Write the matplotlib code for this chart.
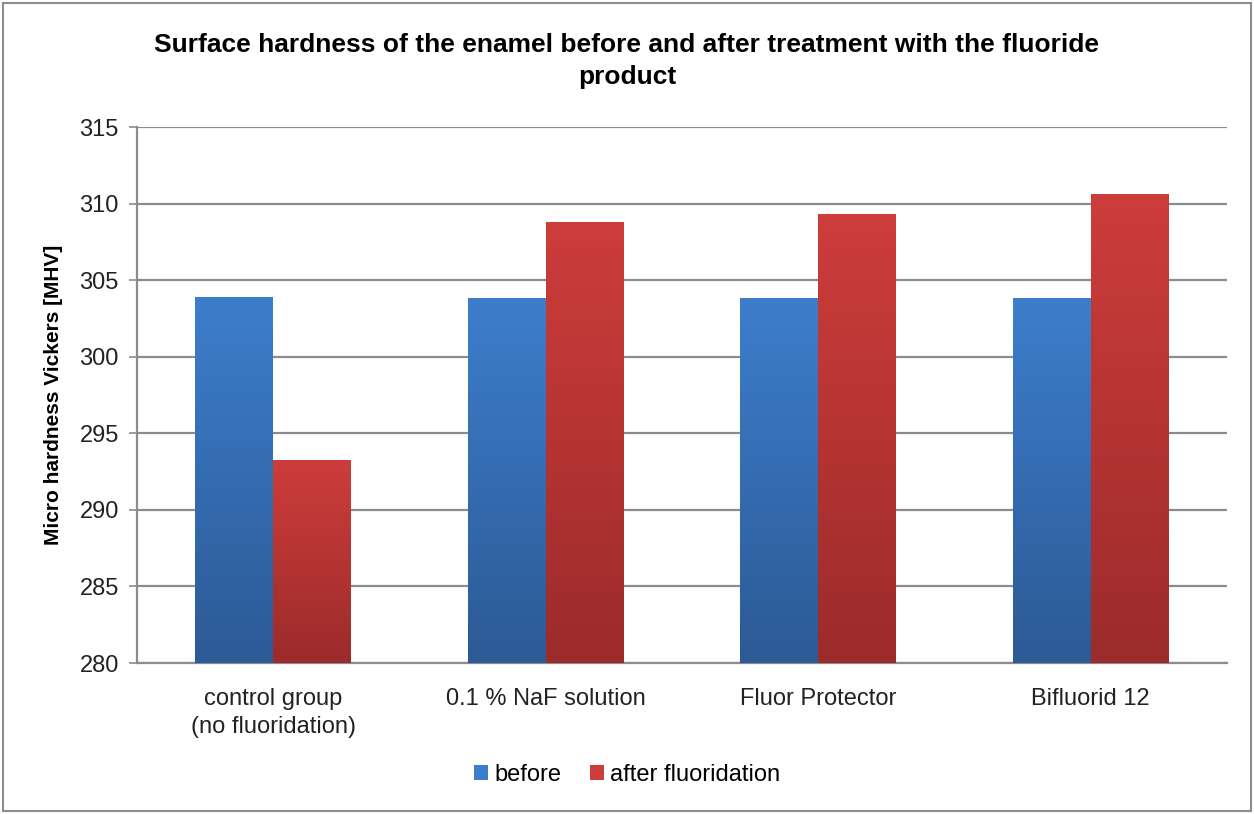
import numpy as np
import matplotlib
matplotlib.use("Agg")
import matplotlib.pyplot as plt
from matplotlib.colors import LinearSegmentedColormap
from matplotlib.patches import Rectangle, Patch

categories = ["control group\n(no fluoridation)", "0.1 % NaF solution", "Fluor Protector", "Bifluorid 12"]
before = [303.9, 303.85, 303.85, 303.85]
after = [293.25, 308.8, 309.3, 310.6]
series_names = ["before", "after fluoridation"]
yticks = [280, 285, 290, 295, 300, 305, 310, 315]

sans = ["Liberation Sans", "DejaVu Sans"]

fig = plt.figure(figsize=(12.54, 8.14), dpi=100)
ax = fig.add_axes([137/1254, 1-663/814, 1090/1254, 536/814])

x = np.arange(len(categories))
w = 0.286
blue_top, blue_bot = "#3D7ECC", "#2C5A95"
red_top, red_bot = "#CD3D3B", "#9C2B2B"

b1 = ax.bar(x - w/2, before, w, bottom=0, color=blue_top, label=series_names[0], zorder=3)
b2 = ax.bar(x + w/2, after, w, bottom=0, color=red_top, label=series_names[1], zorder=3)

def gradient(bars, top, bot):
    cmap = LinearSegmentedColormap.from_list("g", [bot, top])
    grad = np.linspace(0, 1, 256).reshape(-1, 1)
    for bar in bars:
        bx = bar.get_x()
        bw, bh = bar.get_width(), bar.get_height()
        im = ax.imshow(grad, extent=[bx, bx + bw, 280, bh], origin="lower",
                       aspect="auto", cmap=cmap, zorder=4)
        im.set_clip_path(bar)
        bar.set_facecolor("none")
        bar.set_edgecolor("none")

gradient(b1, blue_top, blue_bot)
gradient(b2, red_top, red_bot)
ax.set_xlim(-0.5, 3.5)
ax.set_ylim(280, 315)

ax.set_yticks(yticks)
ax.set_yticklabels([str(t) for t in yticks], fontsize=17, family=sans, color="#222222")
ax.yaxis.grid(True, color="#8c8c8c", linewidth=1.6, zorder=0)
ax.set_axisbelow(True)
ax.set_xticks(x)
ax.set_xticklabels(categories, fontsize=17, family=sans, color="#222222", linespacing=1.35)
ax.tick_params(axis="x", length=0, pad=18)
ax.tick_params(axis="y", length=6, width=1.2, color="#8c8c8c", pad=7)
for s in ["top", "right"]:
    ax.spines[s].set_visible(False)
for s in ["left", "bottom"]:
    ax.spines[s].set_color("#8c8c8c")
    ax.spines[s].set_linewidth(1.6)

ax.set_ylabel("Micro hardness Vickers [MHV]", fontsize=15, fontweight="bold", family=sans, labelpad=12)

fig.text(0.5, 1-61/814, "Surface hardness of the enamel before and after treatment with the fluoride\nproduct",
         ha="center", va="center", fontsize=19, fontweight="bold", family=sans, linespacing=1.45)

handles = [Patch(facecolor=blue_top, edgecolor="none"), Patch(facecolor=red_top, edgecolor="none")]
fig.legend(handles, series_names, loc="center", bbox_to_anchor=(0.5, 1-775/814), ncol=2, frameon=False,
           prop={"family": sans, "size": 17}, handlelength=0.6, handleheight=0.6, handletextpad=0.25,
           columnspacing=1.2)

fig.patches.append(Rectangle((3/1254, 3/814), 1248/1254, 808/814, transform=fig.transFigure,
                             fill=False, edgecolor="#8c8c8c", linewidth=1.5))

fig.savefig("out.png", dpi=100)
